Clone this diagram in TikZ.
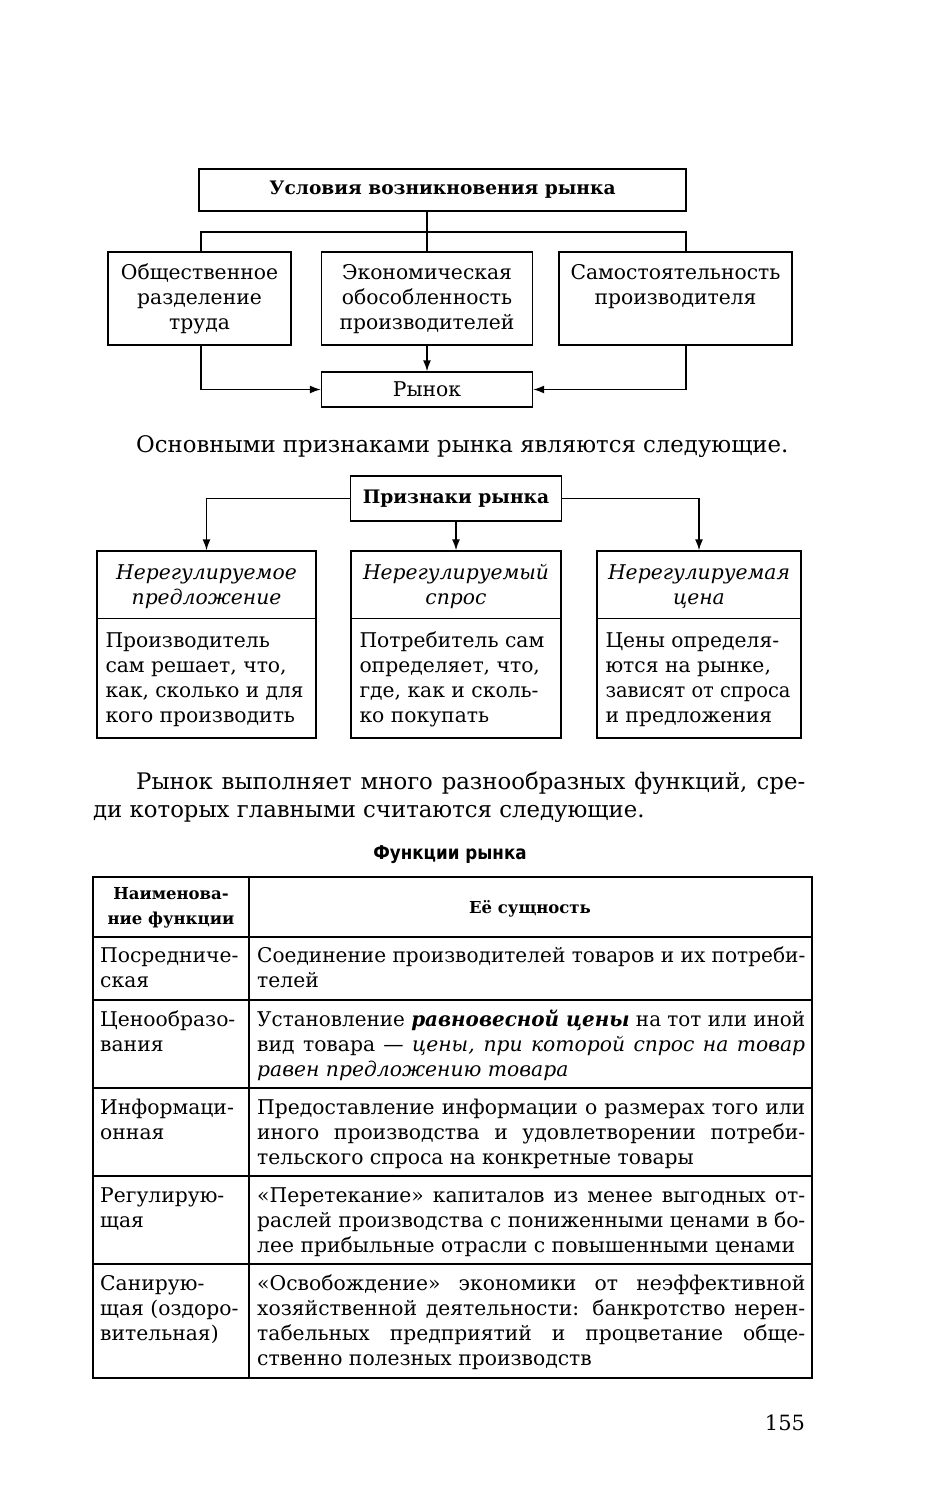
\documentclass[tikz,border=0pt]{standalone}
\usepackage{fontspec}
\usepackage{graphicx}
\setmainfont{DejaVu Serif}
\newfontfamily\hsans{DejaVu Sans}[FakeStretch=0.88]
\usetikzlibrary{arrows.meta,calc}
\newcommand{\fsz}{\fontsize{20.3}{25}\selectfont}
\newcommand{\bsz}{\fontsize{18.6}{25}\selectfont}
\newcommand{\psz}{\fontsize{22.8}{28}\selectfont}
\newcommand{\hsz}{\fontsize{16.5}{25}\selectfont}
\newlength\jlw
\newcommand{\jw}[2]{\settowidth\jlw{#2}\ifdim\jlw>#1\resizebox{#1}{\height}{#2}\else\makebox[#1][s]{#2}\fi}
\newcommand{\jl}[1]{\jw{548pt}{#1}}
\newcommand{\jp}[1]{\jw{669pt}{#1}}
\begin{document}
\begin{tikzpicture}[x=1pt,y=-1pt,
  box/.style={draw, line width=1.4pt, inner sep=0pt, rectangle},
  ln/.style={line width=1.4pt},
  arr/.style={line width=1.4pt, -{Latex[length=11pt,width=8pt]}},
  txt/.style={inner sep=0pt, font=\fsz},
  ctxt/.style={txt, align=center, anchor=north},
  ltxt/.style={txt, align=left, anchor=north west}]
\useasboundingbox[fill=white] (0,0) rectangle (930,1500);

% ---------- section 1
\node[box, minimum width=487pt, minimum height=42pt, font=\bsz\bfseries] (t1) at (442.5,190) {Условия возникновения рынка};
\node[box, minimum width=183pt, minimum height=93pt] (b1) at (199.5,298.5) {};
\node[box, minimum width=211pt, minimum height=93pt] (b2) at (427,298.5) {};
\node[box, minimum width=233pt, minimum height=93pt] (b3) at (675.5,298.5) {};
\node[box, minimum width=211pt, minimum height=35pt, font=\fsz] (r) at (427,389.5) {Рынок};
\node[ctxt] (b1t) at ($(b1.north)+(0,10.5)$) {\strut Общественное\\разделение\\труда};
\node[ctxt] (b2t) at ($(b2.north)+(0,10.5)$) {\strut Экономическая\\обособленность\\производителей};
\node[ctxt] (b3t) at ($(b3.north)+(0,10.5)$) {\strut Самостоятельность\\производителя};
\coordinate (hl) at (201,232);
\coordinate (hr) at (686,232);
\draw[ln] (t1.south -| b2.north) -- (b2.north);
\draw[ln] (b1.north -| hl) |- (hr) -- (b3.north -| hr);
\draw[arr] (b1.south -| hl) |- (r.west);
\draw[arr] (b3.south -| hr) |- (r.east);
\draw[arr] (b2.south) -- (r.north);

\node[txt, anchor=base west, font=\psz] (s1) at (136,452) {Основными признаками рынка являются следующие.};

% ---------- section 2
\node[box, minimum width=211pt, minimum height=45pt, font=\bsz\bfseries] (p) at (456,498.5) {Признаки рынка};
\node[box, minimum width=219pt, minimum height=187pt] (c1) at (206.5,644.5) {};
\node[box, minimum width=210pt, minimum height=187pt] (c2) at (456,644.5) {};
\node[box, minimum width=204pt, minimum height=187pt] (c3) at (699,644.5) {};
\foreach \c in {c1,c2,c3}{
  \draw[ln] ($(\c.north west)+(0,68)$) -- ($(\c.north east)+(0,68)$);
}
\draw[arr] (p.west) -| (c1.north);
\draw[arr] (p.south) -- (c2.north);
\draw[arr] (p.east) -| (c3.north);
\node[ctxt, font=\fsz\itshape] (c1t) at ($(c1.north)+(0,11.5)$) {\strut Нерегулируемое\\предложение};
\node[ctxt, font=\fsz\itshape] (c2t) at ($(c2.north)+(0,11.5)$) {\strut Нерегулируемый\\спрос};
\node[ctxt, font=\fsz\itshape] (c3t) at ($(c3.north)+(0,11.5)$) {\strut Нерегулируемая\\цена};
\node[ltxt] (c1b) at ($(c1.north west)+(9,79.5)$) {\strut Производитель\\сам решает, что,\\\jw{198pt}{как, сколько и для}\\кого производить};
\node[ltxt] (c2b) at ($(c2.north west)+(9,79.5)$) {\strut Потребитель сам\\определяет, что,\\где, как и сколь-\\ко покупать};
\node[ltxt] (c3b) at ($(c3.north west)+(9,79.5)$) {\strut Цены определя-\\ются на рынке,\\\jw{185pt}{зависят от спроса}\\и предложения};

\node[txt, anchor=base west, font=\psz] (s2) at (136,789) {\jp{Рынок выполняет много разнообразных функций, сре-}};
\node[txt, anchor=base west, font=\psz] (s3) at (93,817) {ди которых главными считаются следующие.};

% ---------- table
\node[inner sep=0pt, anchor=base, font={\fontsize{19}{22}\hsans\bfseries}] (ft) at (450,859) {Функции рынка};
\draw[ln] (93,877) rectangle (812,1378);
\draw[ln] (249,877) -- (249,1378);
\foreach \yy in {937,1000,1088,1176,1264}{ \draw[ln] (93,\yy) -- (812,\yy); }

\node[txt, align=center, anchor=north, font=\hsz\bfseries] (h1) at (171,881.5) {\strut Наименова-\\ние функции};
\node[txt, anchor=base, font=\hsz\bfseries] (h2) at (530,913) {Её сущность};

\node[ltxt] (l1) at (100,944.5) {\strut Посредниче-\\ская};
\node[ltxt] (r1) at (257,944.5) {\strut\jl{Соединение производителей товаров и их потреби-}\\телей};

\node[ltxt] (l2) at (100,1008.5) {\strut Ценообразо-\\вания};
\node[ltxt] (r2) at (257,1008.5) {\strut\jl{Установление \textbf{\textit{равновесной цены}} на тот или иной}\\\jl{вид товара — \textit{цены, при которой спрос на товар}}\\\textit{равен предложению товара}};

\node[ltxt] (l3) at (100,1096.5) {\strut Информаци-\\онная};
\node[ltxt] (r3) at (257,1096.5) {\strut\jl{Предоставление информации о размерах того или}\\\jl{иного производства и удовлетворении потреби-}\\тельского спроса на конкретные товары};

\node[ltxt] (l4) at (100,1184.5) {\strut Регулирую-\\щая};
\node[ltxt] (r4) at (257,1184.5) {\strut\jl{«Перетекание» капиталов из менее выгодных от-}\\\jl{раслей производства с пониженными ценами в бо-}\\лее прибыльные отрасли с повышенными ценами};

\node[ltxt] (l5) at (100,1272.5) {\strut Санирую-\\щая (оздоро-\\вительная)};
\node[ltxt] (r5) at (257,1272.5) {\strut\jl{«Освобождение» экономики от неэффективной}\\\jl{хозяйственной деятельности: банкротство нерен-}\\\jl{табельных предприятий и процветание обще-}\\ственно полезных производств};

\node[txt, anchor=base, font=\fontsize{21}{25}\selectfont] (pg) at (785,1430) {155};
\end{tikzpicture}
\end{document}
